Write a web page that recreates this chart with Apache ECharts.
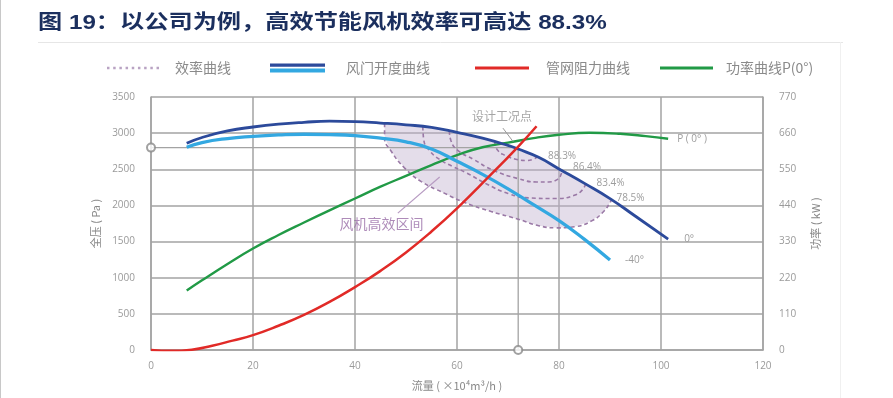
<!DOCTYPE html>
<html><head><meta charset="utf-8">
<script src="https://cdn.jsdelivr.net/npm/echarts@6/dist/echarts.min.js"></script>
<style>html,body{margin:0;padding:0;background:#fff}#c{width:893px;height:398px}</style>
</head><body><div id="c"></div>
<script>
// ---------- text ----------
const titleText = '图 19：以公司为例，高效节能风机效率可高达 88.3%';
const legendNames = ['效率曲线', '风门开度曲线', '管网阻力曲线', '功率曲线P(0°)'];
const flowAxisName = '流量 ( ×10⁴m³/h )';
const pressureAxisName = '全压 ( Pa )';
const powerAxisName = '功率 ( kW )';
const curveLabels = { damper0: '0°', damper40: '-40°', power: 'P ( 0° )' };
const effLevels = ['78.5%', '83.4%', '86.4%', '88.3%'];
const designText = '设计工况点';
const zoneText = '风机高效区间';

// ---------- axes ----------
const flowRange = [0, 120, 20];
const pressureRange = [0, 3500, 500];
const powerRange = [0, 770, 110];

// ---------- data (flow ×10^4 m3/h, pressure Pa, power kW) ----------
const damper0 = [[7,2860],[10,2940],[15,3030],[20,3085],[25,3125],[30,3150],[35,3165],[40,3160],[45,3140],[50,3115],[55,3080],[60,3010],[65,2930],[70,2830],[72,2780],[76,2665],[80,2505],[85,2305],[90,2095],[95,1850],[101.4,1535]];
const damper40 = [[7,2805],[10,2870],[15,2925],[20,2955],[25,2975],[30,2985],[35,2980],[40,2965],[45,2930],[50,2880],[55,2780],[60,2610],[65,2430],[70,2230],[75,2010],[80,1790],[85,1530],[90,1245]];
const pipeResistance = [[0,0],[4,-12],[8,5],[12,60],[16,130],[20,205],[25,335],[30,485],[35,665],[40,870],[45,1095],[50,1350],[55,1640],[60,1960],[66,2380],[72,2815],[75.6,3095]];
const power0 = [[7,181],[10,212],[15,262],[20,309],[25,350],[30,388],[35,425],[40,461],[45,497],[50,530],[55,563],[60,593],[65,617],[70,631],[75,645],[80,655],[86,661],[92,658],[97,651],[101.4,643]];
const eff785 = [[45.8,3137],[45.8,2940],[47.1,2750],[49.7,2520],[53,2330],[57.5,2170],[61.5,2040],[66.7,1915],[72,1810],[76,1720],[79.5,1690],[83,1705],[86.5,1790],[88.8,1920],[90.1,2050],[90.3,2085]];
const eff834 = [[53.3,3090],[53.5,2900],[54.6,2760],[56.5,2640],[59,2545],[62,2445],[66,2290],[70,2165],[74,2105],[79.5,2095],[83,2140],[84.6,2215],[85.2,2300]];
const eff864 = [[58.5,3030],[58.8,2900],[60.1,2765],[63.3,2635],[67,2490],[72,2370],[75.6,2325],[78,2325],[79.8,2365],[80.4,2430],[80.6,2495]];
const eff883 = [[67.4,2882],[67.9,2770],[69.5,2690],[71.5,2640],[73.5,2622],[75,2640],[75.7,2672]];
const designPoint = [72, 2800];
const designLeader = [[71.0,2883],[69.0,3070]];
const designLabelAt = [68.8, 3226];
const zoneLeader = [[56.6,2393],[48.4,1893]];
const zoneLabelAt = [45.2, 1754];

// ---------- styles ----------
const C = { dark:'#2c4a9b', light:'#33a8e1', red:'#e12a27', green:'#219a46', eff:'#9a79a6', grid:'#a3a3a3', label:'#9a9a9a', name:'#888888' };
const FONT = '"Noto Sans CJK SC","Noto Sans",sans-serif';

const regionPoints = eff785.concat(damper0.filter(p => p[0] > eff785[0][0] && p[0] < eff785[eff785.length-1][0]).reverse());

let dots = '';
for (let i = 0; i < 9; i++) { const x = i * 6.25; dots += 'M' + x + ',0h2.5v2.5h-2.5z '; }
const dotIcon = 'path://' + dots;
const doubleIcon = 'path://M0,0H55V3.3H0Z M0,5H55V9H0Z';
const doubleGrad = { type:'linear', x:0, y:0, x2:0, y2:1, colorStops:[{offset:0,color:C.dark},{offset:0.46,color:C.dark},{offset:0.46,color:C.light},{offset:1,color:C.light}] };

const legTxt = (pad) => ({ color:'#8a8a8a', fontSize:14, fontFamily:FONT, padding:[0,0,0,pad] });
const legBase = { top:61, padding:0, orient:'horizontal', selectedMode:false };
const plain = v => String(v);

function effSeries(data, label, dist, dy) {
  return { type:'line', name:legendNames[0], data, smooth:true, symbol:'none', z:3,
    lineStyle:{ color:C.eff, width:1.6, type:[4,3] }, itemStyle:{ color:C.eff },
    endLabel:{ show:true, formatter:label, distance:dist, offset:[0,dy], color:'#9d9d9d', fontSize:10, fontFamily:'"Open Sans",sans-serif' } };
}

const chart = echarts.init(document.getElementById('c'), null, { renderer:'canvas' });
chart.setOption({
  animation:false,
  backgroundColor:'#fff',
  grid:{ left:151, right:130, top:97, bottom:48, outerBoundsMode:'none', containLabel:false },
  graphic:[
    { type:'text', x:38, y:23, scaleX:1.21, style:{ text:titleText, font:'bold 20px "Liberation Sans","Noto Sans CJK SC",sans-serif', fill:'#1b2f5e', verticalAlign:'middle' } },
    { type:'line', shape:{ x1:38, y1:42.5, x2:843, y2:42.5 }, style:{ stroke:'#e6e6e6', lineWidth:1 } },
    { type:'line', shape:{ x1:840.5, y1:42, x2:840.5, y2:398 }, style:{ stroke:'#f0f0f0', lineWidth:1 } },
    { type:'line', shape:{ x1:0.5, y1:0, x2:0.5, y2:398 }, style:{ stroke:'#c8c8c8', lineWidth:1 } }
  ],
  legend:[
    Object.assign({}, legBase, { left:107, itemWidth:52, itemHeight:2.5, icon:dotIcon, data:[{ name:legendNames[0], itemStyle:{ color:'#b9a3c3' } }], textStyle:legTxt(11) }),
    Object.assign({}, legBase, { left:270, itemWidth:55, itemHeight:9, icon:doubleIcon, data:[{ name:legendNames[1], itemStyle:{ color:doubleGrad } }], textStyle:legTxt(16) }),
    Object.assign({}, legBase, { left:475, itemWidth:54, itemHeight:3, icon:'rect', data:[{ name:legendNames[2], itemStyle:{ color:C.red } }], textStyle:legTxt(12) }),
    Object.assign({}, legBase, { left:660, itemWidth:53, itemHeight:3, icon:'rect', data:[{ name:legendNames[3], itemStyle:{ color:C.green } }], textStyle:legTxt(8) })
  ],
  xAxis:{ type:'value', min:flowRange[0], max:flowRange[1], interval:flowRange[2],
    axisLine:{ show:true, lineStyle:{ color:C.grid, width:1.5 } }, axisTick:{ show:false },
    splitLine:{ show:true, lineStyle:{ color:C.grid, width:1.5 } },
    axisLabel:{ color:C.label, fontSize:10, margin:11, formatter:plain, fontFamily:'"Open Sans",sans-serif', hideOverlap:false },
    name:flowAxisName, nameLocation:'middle', nameGap:30, nameTextStyle:{ color:C.name, fontSize:11, fontFamily:FONT } },
  yAxis:[
    { type:'value', min:pressureRange[0], max:pressureRange[1], interval:pressureRange[2],
      axisLine:{ show:true, lineStyle:{ color:C.grid, width:1.5 } }, axisTick:{ show:false },
      splitLine:{ show:true, lineStyle:{ color:C.grid, width:1.5 } },
      axisLabel:{ color:C.label, fontSize:10, margin:16, formatter:plain, fontFamily:'"Open Sans",sans-serif', hideOverlap:false },
      name:pressureAxisName, nameLocation:'middle', nameRotate:90, nameGap:42, nameTextStyle:{ color:C.name, fontSize:11, fontFamily:FONT } },
    { type:'value', position:'right', min:powerRange[0], max:powerRange[1], interval:powerRange[2],
      axisLine:{ show:true, lineStyle:{ color:C.grid, width:1.5 } }, axisTick:{ show:false },
      splitLine:{ show:false },
      axisLabel:{ color:C.label, fontSize:10, margin:16, formatter:plain, fontFamily:'"Open Sans",sans-serif', hideOverlap:false },
      name:powerAxisName, nameLocation:'middle', nameRotate:90, nameGap:47, nameTextStyle:{ color:C.name, fontSize:11, fontFamily:FONT } }
  ],
  series:[
    { type:'custom', name:'区间', coordinateSystem:'cartesian2d', data:[[0,0]], silent:true, z:1,
      renderItem:(params, api) => ({ type:'polygon', shape:{ points: regionPoints.map(p => api.coord(p)) }, style:{ fill:'rgba(190,175,205,0.42)' } }) },
    effSeries(eff785, effLevels[0], 5, -1),
    effSeries(eff834, effLevels[1], 11, -1),
    effSeries(eff864, effLevels[2], 11, -2),
    effSeries(eff883, effLevels[3], 11, -1),
    { type:'line', name:'design', data:[[0,designPoint[1]], designPoint, [designPoint[0],0]], symbol:'none', z:2, silent:true,
      lineStyle:{ color:C.grid, width:1.3 } },
    { type:'line', name:legendNames[3], yAxisIndex:1, data:power0, smooth:true, symbol:'none', z:4,
      lineStyle:{ color:C.green, width:2.4 }, itemStyle:{ color:C.green },
      endLabel:{ show:true, formatter:curveLabels.power, distance:9, color:'#9d9d9d', fontSize:10, fontFamily:'"Open Sans",sans-serif' } },
    { type:'line', name:'-40', data:damper40, smooth:true, symbol:'none', z:5,
      lineStyle:{ color:C.light, width:3.3 }, itemStyle:{ color:C.light },
      endLabel:{ show:true, formatter:curveLabels.damper40, distance:15, color:'#9d9d9d', fontSize:10, fontFamily:'"Open Sans",sans-serif' } },
    { type:'line', name:'0', data:damper0, smooth:true, symbol:'none', z:6,
      lineStyle:{ color:C.dark, width:2.8 }, itemStyle:{ color:C.dark },
      endLabel:{ show:true, formatter:curveLabels.damper0, distance:16, color:'#9d9d9d', fontSize:10, fontFamily:'"Open Sans",sans-serif' } },
    { type:'line', name:legendNames[2], data:pipeResistance, smooth:true, symbol:'none', z:7,
      lineStyle:{ color:C.red, width:2.5 }, itemStyle:{ color:C.red } },
    { type:'line', name:legendNames[1], data:[], symbol:'none', itemStyle:{ color:C.dark }, lineStyle:{ color:C.dark } },
    { type:'line', name:'leader1', data:designLeader, symbol:'none', z:8, silent:true, lineStyle:{ color:'#9a9a9a', width:1 } },
    { type:'line', name:'leader2', data:zoneLeader, symbol:'none', z:8, silent:true, lineStyle:{ color:'#b79bc2', width:1.2 } },
    { type:'scatter', name:'notes', symbolSize:0, z:9, silent:true,
      data:[ { value:designLabelAt, label:{ formatter:designText, color:'#8e8e8e', fontSize:12 } },
             { value:zoneLabelAt, label:{ formatter:zoneText, color:'#9a6ea8', fontSize:14 } } ],
      label:{ show:true, position:'inside', fontFamily:FONT } },
    { type:'scatter', name:'marks', symbol:'emptyCircle', symbolSize:8, clip:false, z:9, silent:true,
      itemStyle:{ color:'#8a8a8a', borderWidth:1.3 },
      data:[[flowRange[0], designPoint[1]], [designPoint[0], pressureRange[0]]] }
  ]
});
</script></body></html>
